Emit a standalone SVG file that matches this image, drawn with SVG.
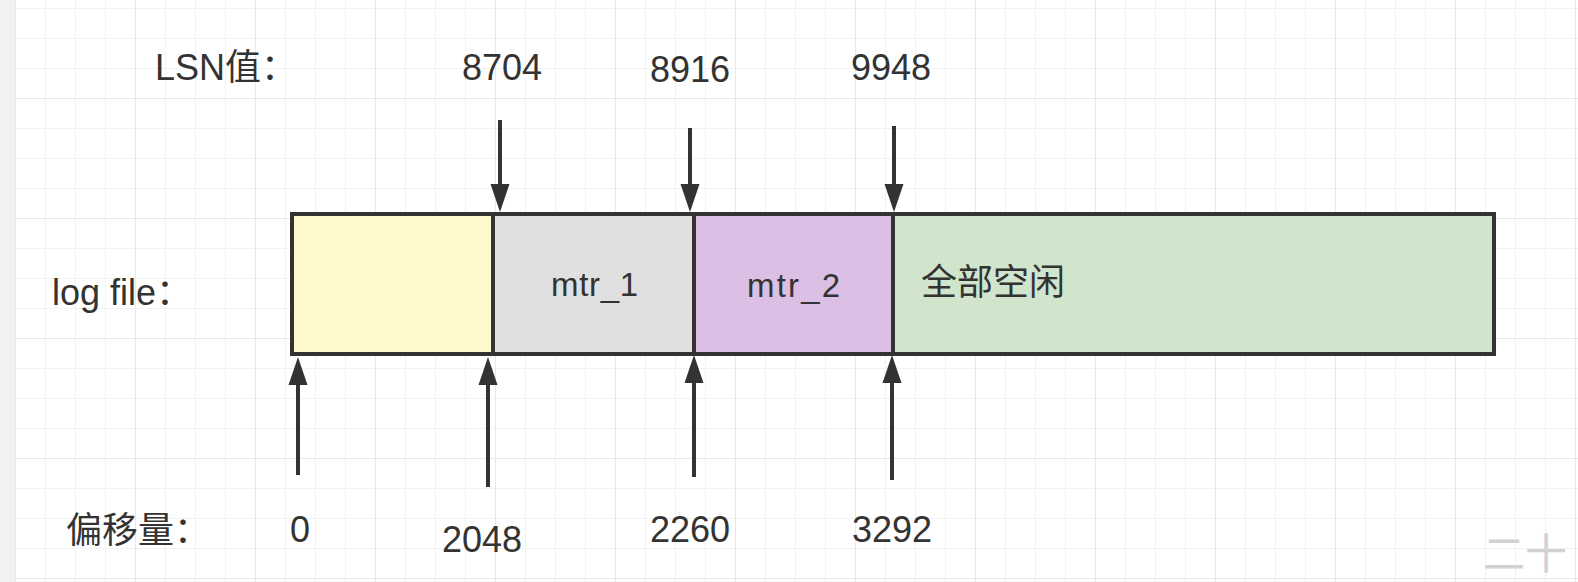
<svg xmlns="http://www.w3.org/2000/svg" width="1578" height="582" viewBox="0 0 1578 582">
<defs>
<pattern id="minor" patternUnits="userSpaceOnUse" x="15" y="8" width="30" height="30">
<path d="M0.5 0 V30 M0 0.5 H30" fill="none" stroke="#f2f2f2" stroke-width="1"/>
</pattern>
<pattern id="major" patternUnits="userSpaceOnUse" x="15" y="98" width="120" height="120">
<path d="M0.5 0 V120 M0 0.5 H120" fill="none" stroke="#e8e8e8" stroke-width="1"/>
</pattern>
<marker id="ah" markerUnits="userSpaceOnUse" markerWidth="28" markerHeight="20" viewBox="0 0 28 20" refX="4" refY="10" orient="auto">
<path d="M0 0.5 L28 10 L0 19.5 Z" fill="#333"/>
</marker>
<style>
.t{font-family:"Liberation Sans","Noto Sans CJK SC",sans-serif;fill:#333;font-size:36px}
.c{text-anchor:middle}
.lbl{font-size:33px}
.cell{stroke:#333;stroke-width:4}
.arr{stroke:#333;stroke-width:4;fill:none;marker-end:url(#ah)}
</style>
</defs>
<rect width="1578" height="582" fill="#ffffff"/>
<rect width="1578" height="582" fill="url(#minor)"/>
<rect width="1578" height="582" fill="url(#major)"/>
<rect x="0" y="0" width="15" height="582" fill="#f1f1f1"/>

<g id="label-lsn"><text class="t" x="155" y="80">LSN值：</text></g>
<g id="label-logfile"><text class="t" x="52" y="305">log file：</text></g>
<g id="label-offset"><text class="t" x="66" y="543">偏移量：</text></g>

<g id="lsn-8704"><text class="t c" x="502" y="80">8704</text></g>
<g id="lsn-8916"><text class="t c" x="690" y="82">8916</text></g>
<g id="lsn-9948"><text class="t c" x="891" y="80">9948</text></g>

<g id="cell-used"><rect class="cell" x="292" y="214" width="201" height="140" fill="#fef9cc"/></g>
<g id="cell-mtr1"><rect class="cell" x="493" y="214" width="201" height="140" fill="#e0e0e0"/><text class="t lbl" x="551" y="296" textLength="87">mtr_1</text></g>
<g id="cell-mtr2"><rect class="cell" x="694" y="214" width="199" height="140" fill="#dbbfe4"/><text class="t lbl" x="747" y="297" textLength="93">mtr_2</text></g>
<g id="cell-free"><rect class="cell" x="893" y="214" width="601" height="140" fill="#d0e5cc"/><text class="t" x="921" y="295" font-size="35">全部空闲</text></g>

<g id="off-0"><text class="t c" x="300" y="542">0</text></g>
<g id="off-2048"><text class="t c" x="482" y="552">2048</text></g>
<g id="off-2260"><text class="t c" x="690" y="542">2260</text></g>
<g id="off-3292"><text class="t c" x="892" y="542">3292</text></g>

<g id="connectors">
<line class="arr" x1="500" y1="120" x2="500" y2="188"/>
<line class="arr" x1="690" y1="128" x2="690" y2="188"/>
<line class="arr" x1="894" y1="126" x2="894" y2="188"/>
<line class="arr" x1="298" y1="475" x2="298" y2="381"/>
<line class="arr" x1="488" y1="487" x2="488" y2="381"/>
<line class="arr" x1="694" y1="477" x2="694" y2="379"/>
<line class="arr" x1="892" y1="480" x2="892" y2="379"/>
</g>

<g id="watermark"><text x="1483" y="569" font-family="'Noto Sans CJK SC',sans-serif" font-size="42" fill="#d2d2d2">二十</text></g>
</svg>
